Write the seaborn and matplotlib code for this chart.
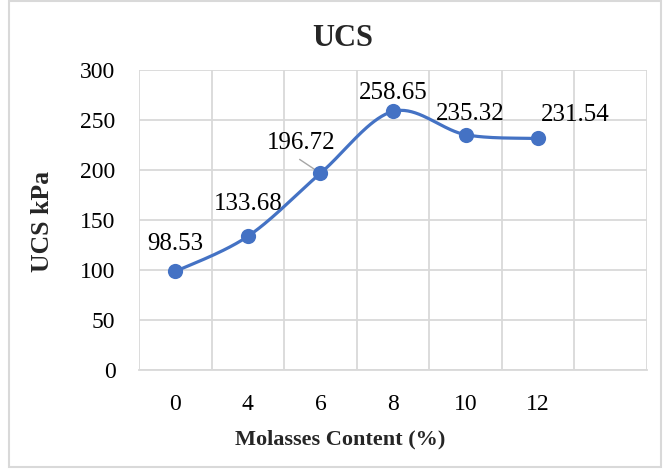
import matplotlib
matplotlib.use("Agg")
import matplotlib.pyplot as plt
import seaborn as sns
import pandas as pd
import numpy as np
from matplotlib.patches import Rectangle

# data
molasses = ["0", "4", "6", "8", "10", "12"]
ucs_kpa = [98.53, 133.68, 196.72, 258.65, 235.32, 231.54]

# label offsets in points (dx, dy)
label_offsets = [(0, 20), (0, 23), (-14, 22), (0, 13), (3, 15), (27, 17)]

LINE_COLOR = "#4472C4"
GRID_COLOR = "#D9D9D9"


def excel_smooth(xs, ys, n=40):
    """Bezier smoothing similar to Excel's 'smoothed line'."""
    pts = np.column_stack([xs, ys]).astype(float)
    out = []
    for i in range(len(pts) - 1):
        p0 = pts[max(i - 1, 0)]
        p1 = pts[i]
        p2 = pts[i + 1]
        p3 = pts[min(i + 2, len(pts) - 1)]
        c1 = p1 + (p2 - p0) / 6
        c2 = p2 - (p3 - p1) / 6
        t = np.linspace(0, 1, n)[:, None]
        seg = ((1 - t) ** 3 * p1 + 3 * (1 - t) ** 2 * t * c1
               + 3 * (1 - t) * t ** 2 * c2 + t ** 3 * p2)
        out.append(seg if i == 0 else seg[1:])
    return np.vstack(out)


sns.set_theme(style="white")
plt.rcParams["font.family"] = ["Liberation Serif", "DejaVu Serif"]

df = pd.DataFrame({"pos": np.arange(len(molasses)), "ucs": ucs_kpa})
curve = excel_smooth(df["pos"], df["ucs"])
curve_df = pd.DataFrame({"pos": curve[:, 0], "ucs": curve[:, 1]})

fig = plt.figure(figsize=(6.63, 4.69), dpi=100)
ax = fig.add_axes([0.2097, 0.2111, 0.7662, 0.6396])

sns.lineplot(data=curve_df, x="pos", y="ucs", ax=ax, color=LINE_COLOR,
             linewidth=2.3, sort=False, zorder=3)
sns.scatterplot(data=df, x="pos", y="ucs", ax=ax, color=LINE_COLOR,
                s=120, edgecolor=LINE_COLOR, linewidth=0, zorder=4)

for i, (x, y) in enumerate(zip(df["pos"], df["ucs"])):
    dx, dy = label_offsets[i]
    ax.annotate(f"{y:.2f}", (x, y), xytext=(dx, dy), textcoords="offset points",
                ha="center", va="center", fontsize=18, color="black", zorder=5)

# leader line for the 196.72 label
ax.annotate("", xy=(2, ucs_kpa[2]), xytext=(-15, 10), textcoords="offset points",
            xycoords="data",
            arrowprops=dict(arrowstyle="-", color="#A6A6A6", lw=1,
                            shrinkA=0, shrinkB=3))

ax.set_xlim(-0.5, len(molasses) + 0.5)
ax.set_ylim(0, 300)
ax.set_yticks(range(0, 301, 50))
ax.set_xticks(range(len(molasses)))
ax.set_xticklabels(molasses)
ax.set_xticks(np.arange(-0.5, len(molasses) + 1, 1), minor=True)

ax.grid(axis="y", which="major", color=GRID_COLOR, linewidth=1.3)
ax.grid(axis="x", which="minor", color=GRID_COLOR, linewidth=1.3)
ax.grid(axis="x", which="major", visible=False)
ax.tick_params(axis="both", which="both", length=0, labelsize=17, colors="black")
ax.tick_params(axis="y", pad=17)
ax.tick_params(axis="x", pad=17)

for side in ["top", "right", "left"]:
    ax.spines[side].set_visible(False)
ax.spines["bottom"].set_color(GRID_COLOR)
ax.spines["bottom"].set_linewidth(1.3)

fig.text(343 / 663, 1 - 38 / 469, "UCS", fontsize=22, fontweight="bold",
         ha="center", va="center")
ax.set_xlabel("Molasses Content (%)", fontsize=16, fontweight="bold")
ax.set_ylabel("UCS kPa", fontsize=18.5, fontweight="bold")
ax.xaxis.set_label_coords(0.396, -0.233)
ax.yaxis.set_label_coords((42 - 139) / 508, (370 - 221) / 300)
ax.xaxis.label.set_va("center")
ax.yaxis.label.set_va("center")

# chart frame
fig.patches.append(Rectangle((9 / 663, 2 / 469), 652 / 663, 466 / 469,
                             transform=fig.transFigure, fill=False,
                             edgecolor=GRID_COLOR, linewidth=1.5))

fig.savefig("out.png", dpi=100)
